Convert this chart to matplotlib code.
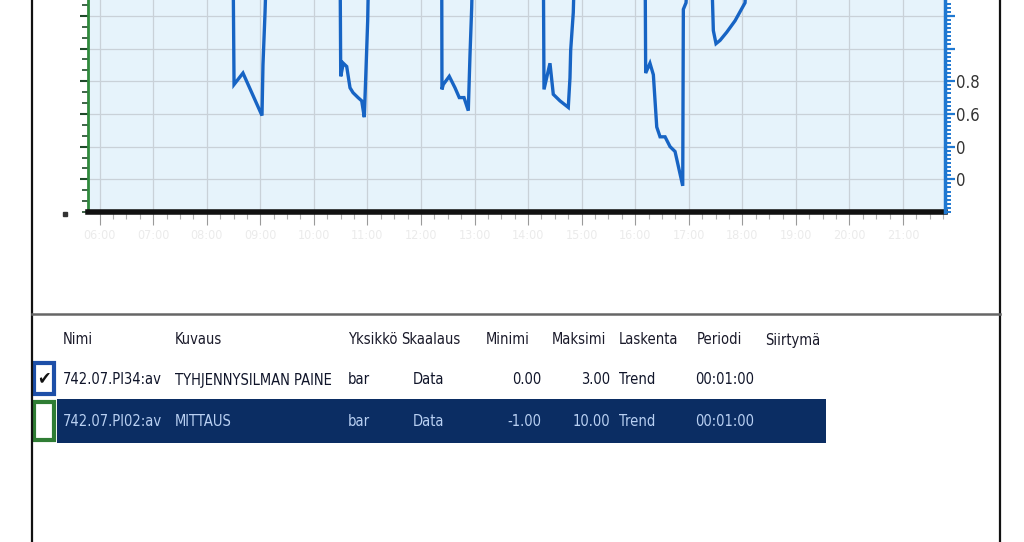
import matplotlib
matplotlib.use("Agg")
import matplotlib.pyplot as plt
from matplotlib.patches import Rectangle
from matplotlib.lines import Line2D
from matplotlib.ticker import MultipleLocator

plt.rcParams['font.family'] = ['DejaVu Sans']
plt.rcParams['font.stretch'] = 'condensed'

# TRENDIN DATA: aika (min) ja paine (bar), 742.07.PI34:av
aika = [-13, 149.4, 150.6, 160.6, 181.9, 183.0, 185.3, 187.5,
        269.3, 270.1, 273.0, 276.8, 280.5, 283.9, 289.5, 293.6, 296.5, 298.4, 300.3, 301.8,
        383.2, 383.5, 385.0, 391.7, 398.1, 402.9, 408.2, 413.0, 414.9, 416.8, 418.3,
        497.0, 497.8, 504.5, 508.2, 515.7, 525.0, 526.9, 527.7, 530.6, 532.5,
        611.0, 611.7, 616.5, 620.3, 624.1, 627.8, 633.4, 639.0, 644.6, 653.2, 653.9, 656.9, 660.3,
        684.9, 687.5, 690.5, 695.0, 702.5, 711.8, 723.0, 726.4, 947]
paine = [1.6, 1.6, 0.78, 0.85, 0.59, 0.90, 1.22, 1.6,
         1.6, 0.83, 0.91, 0.89, 0.76, 0.73, 0.70, 0.68, 0.58, 0.87, 1.17, 1.6,
         1.6, 0.75, 0.78, 0.83, 0.76, 0.70, 0.70, 0.62, 0.96, 1.25, 1.6,
         1.6, 0.75, 0.91, 0.72, 0.68, 0.64, 0.82, 0.99, 1.22, 1.6,
         1.6, 0.85, 0.91, 0.84, 0.52, 0.46, 0.46, 0.40, 0.37, 0.16, 1.24, 1.28, 1.6,
         1.6, 1.11, 1.03, 1.05, 1.10, 1.17, 1.28, 1.6, 1.6]

x_tikit = list(range(0, 901, 60))
x_nimet = ["%02d:00" % (6 + i) for i in range(len(x_tikit))]
oikea_tikit = [0.2, 0.4, 0.6, 0.8, 1.0, 1.2]
oikea_nimet = ["0", "0", "0.6", "0.8", "", ""]

# TAULUKKO
sarakkeet = ["Nimi", "Kuvaus", "Yksikkö", "Skaalaus", "Minimi", "Maksimi",
             "Laskenta", "Periodi", "Siirtymä"]
rivi1 = ["742.07.PI34:av", "TYHJENNYSILMAN PAINE", "bar", "Data", "0.00", "3.00",
         "Trend", "00:01:00"]
rivi2 = ["742.07.PI02:av", "MITTAUS", "bar", "Data", "-1.00", "10.00",
         "Trend", "00:01:00"]

W, H = 1024, 542


def px(x, y):
    return x / W, 1 - y / H


fig = plt.figure(figsize=(10.24, 5.42), dpi=100)
fig.patch.set_facecolor("white")

# kuvaaja
x0, y0 = px(88, 212)
ax = fig.add_axes([x0, y0, (945 - 88) / W, 212 / H])
ax.set_facecolor("#e6f3fb")
ax.plot(aika, paine, color="#1764c4", lw=2.4, solid_joinstyle="miter")
ax.set_xlim(-13, 947)
ax.set_ylim(0, 1.297)

ax.set_xticks(x_tikit)
ax.set_xticklabels([n + "\n" for n in x_nimet], color="#ebebeb", fontsize=9)
ax.xaxis.set_minor_locator(MultipleLocator(15))
ax.tick_params(axis="x", which="major", length=9, color="#9a9a9a", width=0.8)
ax.tick_params(axis="x", which="minor", length=5, color="#b0b0b0", width=0.8)

ax.set_yticks(oikea_tikit)
ax.set_yticklabels([])
ax.yaxis.set_minor_locator(MultipleLocator(0.2 / 3))
ax.tick_params(axis="y", which="major", length=6, color="#1f4a2a", width=1.5)
ax.tick_params(axis="y", which="minor", length=4, color="#1f4a2a", width=1.2)
ax.grid(True, which="major", color="#c9d1d8", lw=0.9)

for s in ["top", "right"]:
    ax.spines[s].set_visible(False)
ax.spines["left"].set_color("#2f8a3c")
ax.spines["left"].set_linewidth(2)
ax.spines["bottom"].set_color("#111111")
ax.spines["bottom"].set_linewidth(4)

# oikea akseli
ax2 = ax.twinx()
ax2.set_ylim(0, 1.297)
ax2.set_yticks(oikea_tikit)
ax2.set_yticklabels(oikea_nimet, fontsize=12, color="#333333")
ax2.yaxis.set_minor_locator(MultipleLocator(0.025))
ax2.tick_params(axis="y", which="major", length=7, color="#1f78d1", width=1.6, pad=1)
ax2.tick_params(axis="y", which="minor", length=4, color="#1f78d1", width=1.4)
for s in ["top", "left", "bottom"]:
    ax2.spines[s].set_visible(False)
ax2.spines["right"].set_color("#1f78d1")
ax2.spines["right"].set_linewidth(2.5)

# kehykset
fig.add_artist(Line2D([32 / W, 32 / W], [0, 1], color="#111111", lw=1.6))
fig.add_artist(Line2D([1000 / W, 1000 / W], [0, 1], color="#111111", lw=1.6))
fig.add_artist(Line2D([32 / W, 1000 / W], [1 - 314 / H, 1 - 314 / H], color="#666666", lw=1.8))
fig.add_artist(Rectangle(px(63, 216), 4 / W, 4 / H, color="#333333"))

# valittu rivi
fig.add_artist(Rectangle(px(57, 443), (826 - 57) / W, 44 / H, color="#0b2d63", lw=0))
# valintaruudut
fig.add_artist(Rectangle(px(34, 394), 20 / W, 31 / H, facecolor="white",
                         edgecolor="#1d4fa8", lw=3))
fig.text(*px(44, 378), "✔", fontsize=13, ha="center", va="center",
         color="#111111", family="DejaVu Sans")
fig.add_artist(Rectangle(px(34, 440), 20 / W, 38 / H, facecolor="white",
                         edgecolor="#2f7d34", lw=3))

otsikko_x = [63, 175, 348, 401, 486, 552, 619, 697, 765]
for nimi, x in zip(sarakkeet, otsikko_x):
    fig.text(*px(x, 340), nimi, fontsize=10.5, ha="left", va="center", color="#1a1a2a")

solu_x = [63, 175, 348, 413, 541, 610, 619, 695]
solu_ha = ["left", "left", "left", "left", "right", "right", "left", "left"]
for arvo, x, ha in zip(rivi1, solu_x, solu_ha):
    fig.text(*px(x, 380), arvo, fontsize=10.5, ha=ha, va="center", color="#10152a")
for arvo, x, ha in zip(rivi2, solu_x, solu_ha):
    fig.text(*px(x, 422), arvo, fontsize=10.5, ha=ha, va="center", color="#b9d0f2")

fig.savefig("out.png", dpi=100)
